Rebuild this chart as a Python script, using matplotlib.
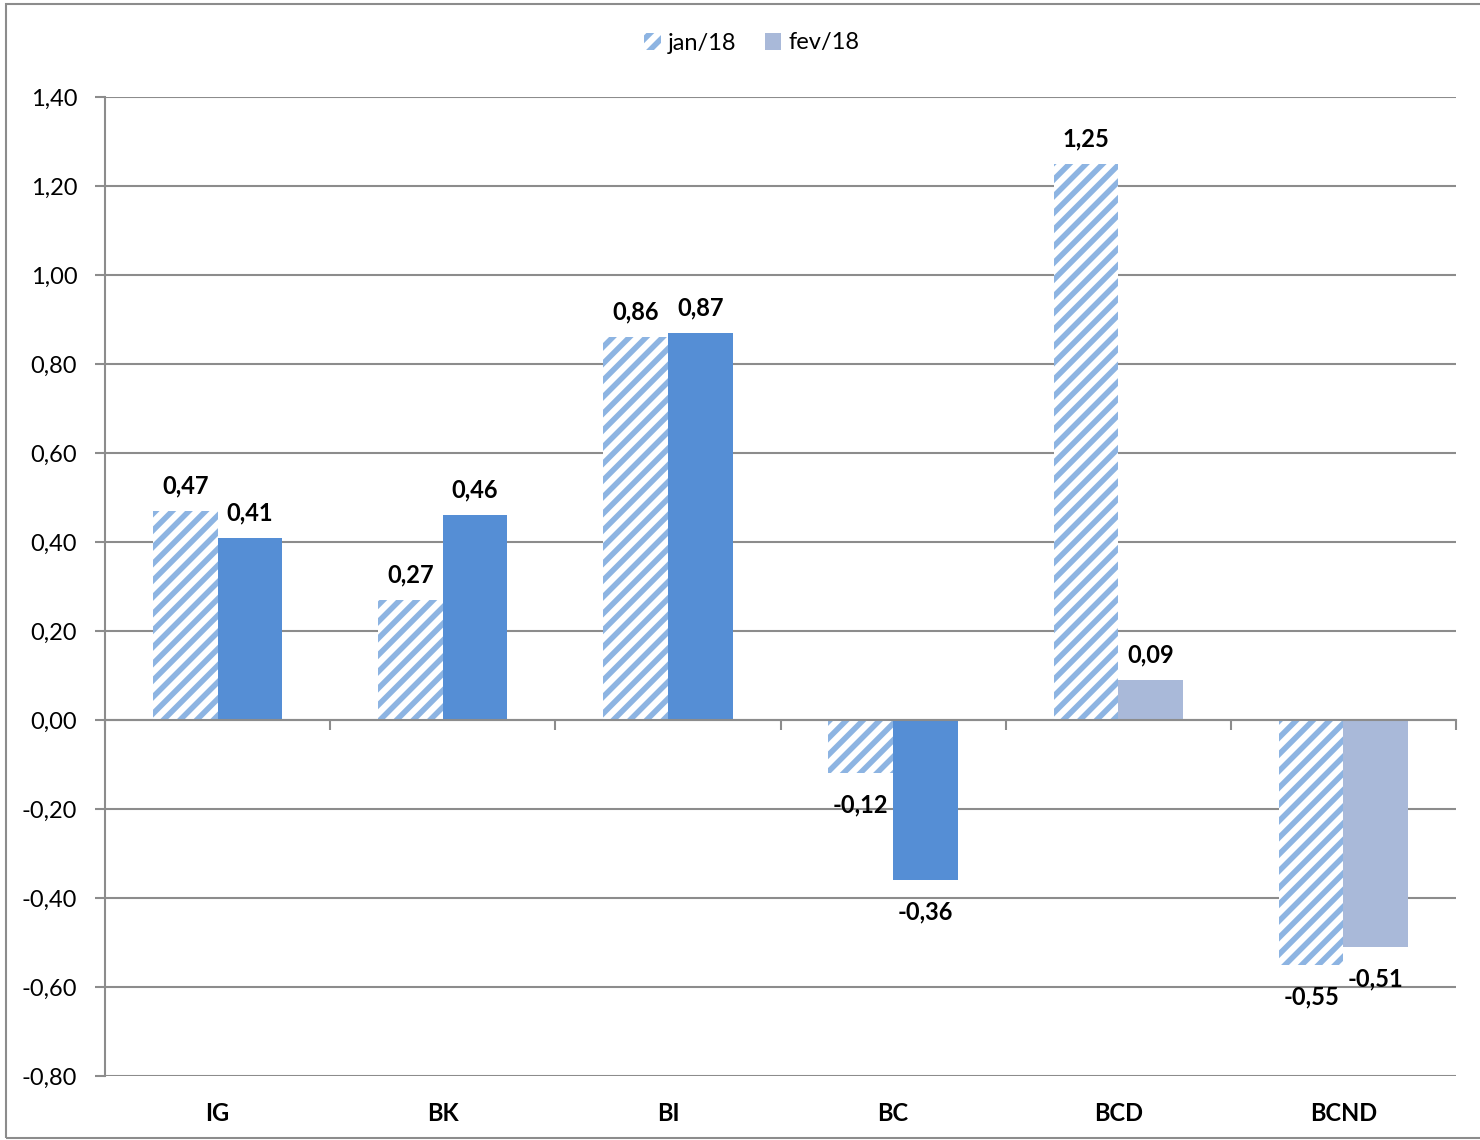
import matplotlib
matplotlib.use("Agg")
import matplotlib.pyplot as plt
import matplotlib.patches as mpatches
import numpy as np

categories = ["IG", "BK", "BI", "BC", "BCD", "BCND"]
jan18 = [0.47, 0.27, 0.86, -0.12, 1.25, -0.55]
fev18 = [0.41, 0.46, 0.87, -0.36, 0.09, -0.51]
series_names = ["jan/18", "fev/18"]
yticks = [-0.80, -0.60, -0.40, -0.20, 0.00, 0.20, 0.40, 0.60, 0.80, 1.00, 1.20, 1.40]

plt.rcParams['font.family'] = ['Lato', 'DejaVu Sans']
plt.rcParams['hatch.linewidth'] = 4.0

fig = plt.figure(figsize=(14.8, 11.4), dpi=100)
ax = fig.add_axes([105/1480, 1-1076/1140, (1456-105)/1480, (1076-97)/1140])

x = np.arange(len(categories))
w = 0.287
hatch_col = '#8DB4E2'
fev_cols = ['#558ED5', '#558ED5', '#558ED5', '#558ED5', '#A9B9D9', '#A9B9D9']

b1 = ax.bar(x - w/2, jan18, w, color='white', edgecolor=hatch_col, hatch='//', linewidth=0, zorder=3)
b2 = ax.bar(x + w/2, fev18, w, color=fev_cols, linewidth=0, zorder=3)

def fmt(v):
    return f"{v:.2f}".replace('.', ',')

for bars, vals in ((b1, jan18), (b2, fev18)):
    for r, v in zip(bars, vals):
        cx = r.get_x() + r.get_width()/2
        off = 18 if v >= 0 else -23
        ax.annotate(fmt(v), (cx, v), xytext=(0, off), textcoords='offset points',
                    ha='center', va='center', fontsize=17, fontweight='bold', color='black', zorder=5)

ax.set_xlim(-0.5, 5.5)
ax.set_ylim(-0.80, 1.40)
ax.set_yticks(yticks)
ax.set_yticklabels([fmt(v) for v in yticks], fontsize=17)
ax.yaxis.grid(True, color='#8C8C8C', linewidth=1.5, zorder=0)
ax.set_axisbelow(True)

for s in ['top', 'right']:
    ax.spines[s].set_visible(False)
ax.spines['left'].set_color('#8C8C8C')
ax.spines['left'].set_linewidth(1.5)
ax.spines['bottom'].set_position(('data', 0))
ax.spines['bottom'].set_color('#8C8C8C')
ax.spines['bottom'].set_linewidth(1.5)
ax.spines['bottom'].set_zorder(4)

ax.set_xticks(np.arange(-0.5, 6.0, 1.0))
ax.set_xticklabels([])
ax.tick_params(axis='x', direction='out', length=7, width=1.5, color='#8C8C8C')
ax.tick_params(axis='y', direction='out', length=7, width=1.5, color='#8C8C8C', pad=13)

sec = ax.secondary_xaxis(0)
sec.set_xticks(x)
sec.set_xticklabels(categories, fontsize=17, fontweight='bold')
sec.tick_params(length=0, pad=19)
sec.spines['bottom'].set_visible(False)

handles = [mpatches.Patch(facecolor='white', edgecolor=hatch_col, hatch='//', linewidth=0),
           mpatches.Patch(facecolor='#A9B9D9', linewidth=0)]
fig.legend(handles, series_names, loc='center', bbox_to_anchor=(0.508, 1-43/1140), ncol=2,
           frameon=False, fontsize=17, handlelength=0.7, handleheight=0.7, handletextpad=0.3,
           columnspacing=1.2)

border = mpatches.Rectangle((6/1480, 1-1138/1140), 1.1, (1138-4)/1140, transform=fig.transFigure,
                            fill=False, edgecolor='#8C8C8C', linewidth=1.5)
fig.patches.append(border)

fig.savefig('out.png', dpi=100)
